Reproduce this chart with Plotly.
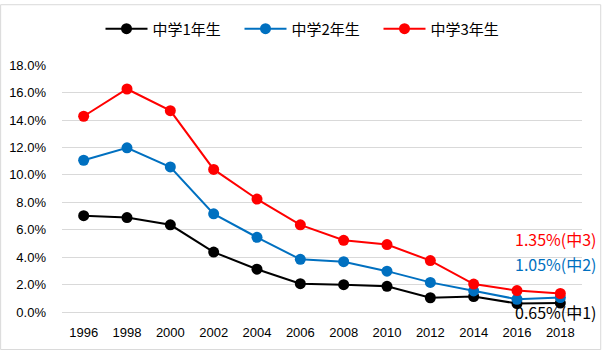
import plotly.graph_objects as go

years = ["1996", "1998", "2000", "2002", "2004", "2006", "2008", "2010", "2012", "2014", "2016", "2018"]
grade1 = [7.03, 6.89, 6.36, 4.37, 3.12, 2.07, 1.99, 1.87, 1.04, 1.13, 0.62, 0.65]
grade2 = [11.07, 11.98, 10.58, 7.16, 5.45, 3.84, 3.67, 2.98, 2.16, 1.54, 0.93, 1.05]
grade3 = [14.28, 16.27, 14.69, 10.40, 8.24, 6.36, 5.23, 4.92, 3.75, 2.04, 1.56, 1.35]
names = ["中学1年生", "中学2年生", "中学3年生"]
colors = ["#000000", "#0070C0", "#FF0000"]
end_labels = ["0.65%(中1)", "1.05%(中2)", "1.35%(中3)"]

JP = "Noto Sans CJK JP"
fig = go.Figure()
for vals, name, col in zip([grade1, grade2, grade3], names, colors):
    fig.add_trace(go.Scatter(
        x=years, y=vals, name=name, mode="lines+markers",
        line=dict(color=col, width=2),
        marker=dict(color=col, size=11),
    ))

ann_y = [0.0, 0.193, 0.296]
for txt, col, yy in zip(end_labels, colors, ann_y):
    fig.add_annotation(text=txt, xref="paper", yref="paper", x=1.03, y=yy,
                       xanchor="right", yanchor="middle", showarrow=False,
                       font=dict(family=JP, size=16, color=col), borderpad=0)

fig.update_layout(
    width=602, height=350,
    margin=dict(l=62, r=20, t=61, b=38),
    paper_bgcolor="white", plot_bgcolor="white",
    font=dict(family="Liberation Sans, " + JP, size=12, color="#000000"),
    showlegend=True,
    legend=dict(orientation="h", x=0.475, xanchor="center", y=1.146, yanchor="middle",
                font=dict(family=JP, size=15), itemwidth=42, traceorder="normal",
                entrywidth=82, entrywidthmode="pixels"),
    xaxis=dict(type="category", range=[-0.5, 11.5], showgrid=False, showline=False,
               zeroline=False, ticks="", ticklabelstandoff=11, automargin=False,
               tickfont=dict(family="Liberation Sans", size=13)),
    yaxis=dict(range=[0, 18.02], dtick=2, tick0=0, tickformat=".1f", ticksuffix="%",
               showgrid=True, gridcolor="#D9D9D9", gridwidth=1, zeroline=True,
               zerolinecolor="#D9D9D9", zerolinewidth=1, showline=False, automargin=False,
               ticklabelstandoff=15, tickfont=dict(family="Liberation Sans", size=13)),
    shapes=[dict(type="rect", xref="paper", yref="paper", x0=-0.118, x1=1.036,
                 y0=-0.152, y1=1.244, line=dict(color="#D9D9D9", width=1))],
)
fig.write_html("out.html")
